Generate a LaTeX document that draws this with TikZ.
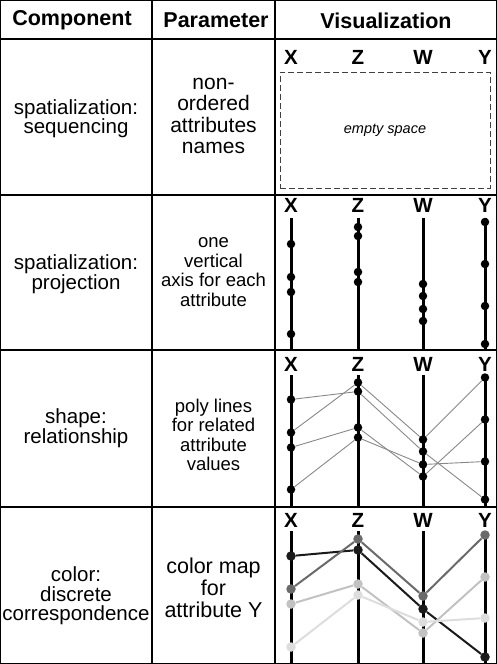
\documentclass[tikz,border=0pt]{standalone}
\usepackage{fontspec}
\setmainfont{Liberation Sans}
\definecolor{cdark}{HTML}{6A6A6A}
\definecolor{clight}{HTML}{C2C2C2}
\definecolor{cvlight}{HTML}{DDDDDD}
\definecolor{cblack}{HTML}{1A1A1A}
\definecolor{cline}{HTML}{888888}
\begin{document}
\begin{tikzpicture}[x=1pt,y=-1pt,
  grid/.style={line width=1.3pt},
  hdr/.style={font=\fontsize{21.5}{22}\selectfont\bfseries},
  comp/.style={font=\fontsize{20.5}{19.5}\selectfont, align=center, inner sep=0pt},
  parbig/.style={font=\fontsize{21}{21.5}\selectfont, align=center, inner sep=0pt},
  parsmall/.style={font=\fontsize{18.5}{19.5}\selectfont, align=center, inner sep=0pt},
  parmap/.style={font=\fontsize{21.5}{22}\selectfont, align=center, inner sep=0pt},
  axlab/.style={font=\fontsize{20.5}{20}\selectfont\bfseries, inner sep=0pt},
  axisline/.style={line width=3pt},
  dot/.style={circle, fill=black, inner sep=0pt, minimum size=8.5pt},
  bigdot/.style={circle, inner sep=0pt, minimum size=9.5pt},
  pl/.style={cline, line width=0.9pt},
  cl/.style={line width=2pt},
]
\useasboundingbox (0,0) rectangle (497,664);
% table grid
\draw[grid] (0.65,0.65) rectangle (496.35,663.35);
\foreach \yy in {39,195,350,507} \draw[grid] (0,\yy) -- (497,\yy);
\draw[grid] (152,0) -- (152,664);
\draw[grid] (275,0) -- (275,664);
% header
\node[hdr] (hcomp) at (72,20.5) {Component};
\node[hdr] (hpar) at (216,20.5) {Parameter};
\node[hdr] (hvis) at (386,20.5) {Visualization};
% left columns
\node[comp] (c1) at (76,118.5) {spatialization:\\sequencing};
\node[parbig] (p1) at (213.5,116) {non-\\ordered\\attributes\\names};
\node[comp] (c2) at (76,274) {spatialization:\\projection};
\node[parsmall] (p2) at (213.5,272) {one\\vertical\\axis for each\\attribute};
\node[comp] (c3) at (76,428) {shape:\\relationship};
\node[parsmall] (p3) at (213.5,435) {poly lines\\for related\\attribute\\values};
\node[comp] (c4) at (76,596) {color:\\discrete\\correspondence};
\node[parmap] (p4) at (213.5,588) {color map\\for\\attribute Y};
% row 1
\foreach \ax/\xx in {X/291,Z/358,W/423,Y/485}
  \node[axlab] (l1\ax) at (\xx,57) {\ax};
\node[draw=black!75, dashed, dash pattern=on 6pt off 3pt, line width=0.9pt,
      minimum width=210pt, minimum height=116pt,
      font=\fontsize{14.5}{15}\selectfont\itshape] (empty) at (385,130) {empty space};
% rows 2-4: labels and axes
\foreach \r/\lt/\at/\ab in {2/205/218/350, 3/364/375/507, 4/520/531/663}{
  \foreach \ax/\xx in {X/291,Z/358,W/423,Y/485}{
    \node[axlab] (l\r\ax) at (\xx,\lt) {\ax};
    \coordinate (a\r\ax) at (\xx,\at);
    \coordinate (b\r\ax) at (\xx,\ab);
    \draw[axisline] (a\r\ax) -- (b\r\ax);
  }
}
% rows 2-3: black dots
\foreach \r/\o in {2/0, 3/155.5}{
  \foreach \ax/\xx/\ya/\yb/\yc/\yd in {X/291/244/277/292/334, Z/358/227/236/272/282, W/423/284/296/309/321, Y/485/222/264/306/344}{
    \node[dot] (d\r\ax1) at (\xx,\ya+\o) {};
    \node[dot] (d\r\ax2) at (\xx,\yb+\o) {};
    \node[dot] (d\r\ax3) at (\xx,\yc+\o) {};
    \node[dot] (d\r\ax4) at (\xx,\yd+\o) {};
  }
}
% row 3 polylines
\draw[pl] (d3X1) -- (d3Z2) -- (d3W2) -- (d3Y4);
\draw[pl] (d3X2) -- (d3Z1) -- (d3W1) -- (d3Y1);
\draw[pl] (d3X3) -- (d3Z3) -- (d3W4) -- (d3Y2);
\draw[pl] (d3X4) -- (d3Z4) -- (d3W3) -- (d3Y3);
% row 4 coloured dots
\node[bigdot, fill=cblack]  (d4X1) at (291,556) {};
\node[bigdot, fill=cdark]   (d4X2) at (291,589) {};
\node[bigdot, fill=clight]  (d4X3) at (291,604) {};
\node[bigdot, fill=cvlight] (d4X4) at (291,647) {};
\node[bigdot, fill=cdark]   (d4Z1) at (358,539) {};
\node[bigdot, fill=cblack]  (d4Z2) at (358,550) {};
\node[bigdot, fill=clight]  (d4Z3) at (358,584) {};
\node[bigdot, fill=cvlight] (d4Z4) at (358,595) {};
\node[bigdot, fill=cdark]   (d4W1) at (423,596) {};
\node[bigdot, fill=cblack]  (d4W2) at (423,609) {};
\node[bigdot, fill=cvlight] (d4W3) at (423,622) {};
\node[bigdot, fill=clight]  (d4W4) at (423,633) {};
\node[bigdot, fill=cdark]   (d4Y1) at (485,535) {};
\node[bigdot, fill=clight]  (d4Y2) at (485,577) {};
\node[bigdot, fill=cvlight] (d4Y3) at (485,618) {};
\node[bigdot, fill=cblack]  (d4Y4) at (485,657) {};
\draw[cl, cblack]  (d4X1) -- (d4Z2) -- (d4W2) -- (d4Y4);
\draw[cl, cdark]   (d4X2) -- (d4Z1) -- (d4W1) -- (d4Y1);
\draw[cl, clight]  (d4X3) -- (d4Z3) -- (d4W4) -- (d4Y2);
\draw[cl, cvlight] (d4X4) -- (d4Z4) -- (d4W3) -- (d4Y3);
\end{tikzpicture}
\end{document}
